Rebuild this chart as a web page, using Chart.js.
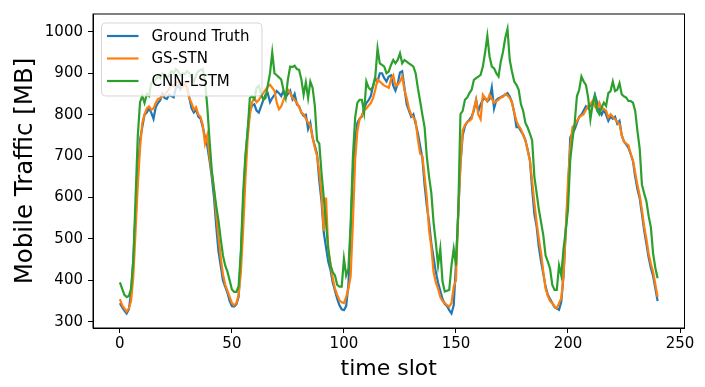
<!DOCTYPE html>
<html>
<head>
<meta charset="utf-8">
<script src="https://cdn.jsdelivr.net/npm/chart.js@4.4.1/dist/chart.umd.min.js"></script>
<style>
  html, body { margin: 0; padding: 0; background: #ffffff; }
  #wrap { width: 705px; height: 387px; }
</style>
</head>
<body>
<div id="wrap"><canvas id="trafficChart" width="705" height="387"></canvas></div>
<script>
// values, one per time slot (0..240)
const groundTruth = [
    345, 335, 327, 320, 330, 370, 450, 560, 660, 740,
    770, 800, 805, 815, 805, 790, 818, 828, 835, 850,
    840, 838, 848, 845, 842, 865, 870, 862, 878, 872,
    866, 840, 815, 805, 812, 795, 790, 770, 745, 725,
    690, 650, 600, 530, 470, 435, 400, 385, 370, 350,
    338, 337, 342, 360, 460, 580, 690, 760, 808, 822,
    825, 810, 805, 820, 835, 848, 852, 830, 840, 848,
    857, 852, 845, 857, 842, 850, 858, 838, 850, 825,
    820, 805, 797, 800, 765, 780, 745, 725, 705, 640,
    590, 515, 480, 445, 425, 395, 375, 355, 340, 330,
    328, 338, 390, 520, 660, 740, 780, 790, 795, 815,
    828, 835, 845, 870, 888, 880, 900, 900, 888, 880,
    892, 895, 870, 858, 875, 902, 905, 865, 825, 810,
    795, 801, 778, 755, 725, 695, 630, 580, 540, 490,
    455, 420, 395, 375, 355, 343, 338, 328, 320, 340,
    440, 560, 680, 750, 772, 782, 788, 795, 810, 836,
    808, 825, 836, 840, 832, 838, 866, 815, 835, 840,
    842, 845, 848, 852, 844, 830, 805, 770, 770, 760,
    752, 738, 715, 690, 620, 560, 530, 480, 445, 415,
    385, 365, 355, 345, 335, 332, 329, 348, 410, 520,
    610, 745, 756, 765, 780, 795, 800, 810, 820, 815,
    822, 828, 848, 830, 810, 800, 812, 800, 785, 795,
    790, 795, 778, 785, 750, 735, 728, 720, 705, 688,
    650, 620, 598, 560, 520, 488, 455, 430, 410, 380,
    350
];

const gsStn = [
    355, 340, 332, 325, 332, 350, 410, 520, 630, 720,
    780, 800, 815, 820, 812, 815, 828, 838, 840, 845,
    848, 855, 862, 872, 868, 876, 880, 872, 866, 878,
    862, 840, 828, 812, 818, 800, 795, 775, 730, 750,
    700, 660, 620, 560, 505, 455, 415, 390, 375, 360,
    345, 340, 345, 365, 420, 520, 640, 740, 800, 830,
    840, 830, 835, 845, 852, 860, 868, 872, 865, 858,
    829, 813, 820, 835, 848, 860, 852, 841, 835, 829,
    818, 805, 801, 790, 781, 773, 745, 720, 700, 662,
    610, 520, 600, 475, 440, 405, 380, 365, 352, 347,
    345, 360, 380, 410, 540, 690, 760, 790, 798, 810,
    815, 822, 828, 840, 860, 885, 880, 875, 870, 868,
    865, 885, 895, 870, 872, 880, 892, 860, 840, 815,
    800, 793, 785, 740, 706, 700, 651, 600, 520, 480,
    420, 395, 380, 360, 350, 345, 340, 337, 345, 385,
    400, 560, 680, 762, 775, 782, 785, 790, 815, 836,
    800, 789, 848, 840, 833, 848, 838, 829, 832, 836,
    841, 843, 850, 846, 840, 829, 805, 785, 773, 765,
    750, 738, 714, 690, 640, 587, 540, 500, 465, 420,
    380, 362, 350, 345, 337, 333, 345, 357, 412, 520,
    640, 720, 770, 775, 785, 793, 798, 801, 812, 821,
    826, 833, 820, 813, 829, 815, 813, 810, 793, 801,
    795, 789, 783, 777, 750, 735, 730, 726, 705, 690,
    660, 630, 605, 570, 530, 500, 465, 440, 420, 390,
    360
];

const cnnLstm = [
    395, 380, 365, 360, 362, 380, 450, 600, 750, 830,
    845, 828, 850, 845, 876, 880, 885, 892, 888, 900,
    895, 888, 895, 905, 900, 910, 905, 895, 900, 898,
    905, 900, 890, 880, 895, 905, 908, 910, 880, 820,
    740, 667, 620, 580, 545, 500, 460, 436, 421, 400,
    378, 372, 372, 386, 470, 610, 700, 760, 840, 845,
    838, 865, 870, 850, 836, 840, 870, 900, 950, 900,
    895, 890, 885, 860, 840, 885, 916, 915, 918, 910,
    908, 885, 848, 878, 840, 880, 865, 822, 738, 730,
    659, 600, 538, 475, 436, 420, 412, 389, 385, 385,
    452, 412, 428, 538, 698, 793, 829, 836, 836, 805,
    880, 865, 860, 868, 892, 960, 924, 920, 916, 900,
    904, 920, 932, 924, 932, 948, 924, 932, 928, 924,
    920, 916, 900, 864, 833, 800, 770, 698, 650, 611,
    540, 492, 436, 476, 397, 373, 375, 377, 436, 476,
    436, 563, 801, 809, 836, 841, 852, 860, 884, 888,
    892, 896, 916, 950, 990, 940, 916, 912, 900, 892,
    928, 952, 985, 1007, 932, 904, 880, 872, 860, 825,
    809, 780, 769, 754, 738, 650, 611, 571, 540, 508,
    460, 445, 428, 389, 377, 377, 436, 412, 476, 520,
    571, 690, 740, 781, 845, 860, 892, 880, 872, 841,
    789, 825, 844, 810, 801, 817, 829, 821, 852, 857,
    880, 857, 860, 876, 849, 844, 841, 833, 833, 829,
    809, 760, 718, 631, 610, 591, 555, 528, 464, 430,
    405
];

const timeSlots = groundTruth.map((_, i) => i);
const xTicks = [0, 50, 100, 150, 200, 250];
const yTicks = [300, 400, 500, 600, 700, 800, 900, 1000];

const FONT = "'DejaVu Sans', sans-serif";

// draws the box around the axes and the matplotlib-like legend in the upper left
const frameAndLegend = {
    id: 'frameAndLegend',
    afterDatasetsDraw(chart) {
        const { ctx, chartArea } = chart;
        const x0 = chartArea.left + 8.5;
        const y0 = chartArea.top + 9;
        const w = 160.5;
        const h = 73;
        ctx.save();
        ctx.beginPath();
        ctx.roundRect(x0, y0, w, h, 4);
        ctx.fillStyle = 'rgba(255,255,255,0.8)';
        ctx.fill();
        ctx.strokeStyle = 'rgba(204,204,204,0.8)';
        ctx.lineWidth = 1;
        ctx.stroke();

        ctx.font = '15px ' + FONT;
        ctx.textBaseline = 'middle';
        ctx.textAlign = 'left';
        chart.data.datasets.forEach((ds, i) => {
            const rowY = y0 + 13 + i * 22.5;
            ctx.beginPath();
            ctx.moveTo(x0 + 5.5, rowY);
            ctx.lineTo(x0 + 37, rowY);
            ctx.strokeStyle = ds.borderColor;
            ctx.lineWidth = 2.2;
            ctx.stroke();
            ctx.fillStyle = '#000000';
            ctx.fillText(ds.label, x0 + 50, rowY + 1);
        });
        ctx.restore();
    },
    afterDraw(chart) {
        const { ctx, chartArea } = chart;
        ctx.save();
        ctx.strokeStyle = '#000000';
        ctx.lineWidth = 1;
        ctx.strokeRect(chartArea.left, chartArea.top, chartArea.right - chartArea.left, chartArea.bottom - chartArea.top);
        ctx.restore();
    }
};

function makeDataset(label, values, color, order) {
    return {
        label: label,
        data: values,
        borderColor: color,
        backgroundColor: color,
        borderWidth: 2.2,
        pointRadius: 0,
        tension: 0,
        fill: false,
        order: order
    };
}

const ctx = document.getElementById('trafficChart').getContext('2d');
const trafficChart = new Chart(ctx, {
    type: 'line',
    data: {
        labels: timeSlots,
        datasets: [
            makeDataset('Ground Truth', groundTruth, '#1f77b4', 3),
            makeDataset('GS-STN', gsStn, '#ff7f0e', 2),
            makeDataset('CNN-LSTM', cnnLstm, '#2ca02c', 1)
        ]
    },
    options: {
        responsive: false,
        animation: false,
        events: [],
        devicePixelRatio: 1,
        layout: { padding: { left: 0, right: 20.5, top: 10, bottom: 0 } },
        plugins: {
            legend: { display: false },
            tooltip: { enabled: false }
        },
        scales: {
            x: {
                type: 'linear',
                min: -12,
                max: 252,
                afterBuildTicks: scale => { scale.ticks = xTicks.map(v => ({ value: v })); },
                afterFit: scale => { scale.height = 59; },
                grid: { drawOnChartArea: false, drawTicks: true, tickLength: 5, color: '#000000', tickWidth: 1 },
                border: { display: true, color: '#000000', width: 1 },
                ticks: {
                    color: '#000000',
                    padding: 2,
                    maxRotation: 0,
                    font: { family: FONT, size: 15 },
                    callback: v => String(v)
                },
                title: {
                    display: true,
                    text: 'time slot',
                    color: '#000000',
                    font: { family: FONT, size: 22 },
                    padding: { top: 0, bottom: 5 }
                }
            },
            y: {
                type: 'linear',
                min: 285,
                max: 1043,
                afterBuildTicks: scale => { scale.ticks = yTicks.map(v => ({ value: v })); },
                afterFit: scale => { scale.width = 93; },
                grid: { drawOnChartArea: false, drawTicks: true, tickLength: 5, color: '#000000', tickWidth: 1 },
                border: { display: true, color: '#000000', width: 1 },
                ticks: {
                    color: '#000000',
                    padding: 5,
                    font: { family: FONT, size: 15 },
                    callback: v => String(v)
                },
                title: {
                    display: true,
                    text: 'Mobile Traffic [MB]',
                    color: '#000000',
                    font: { family: FONT, size: 24.5 },
                    padding: { top: 11, bottom: 0 }
                }
            }
        }
    },
    plugins: [frameAndLegend]
});
</script>
</body>
</html>
